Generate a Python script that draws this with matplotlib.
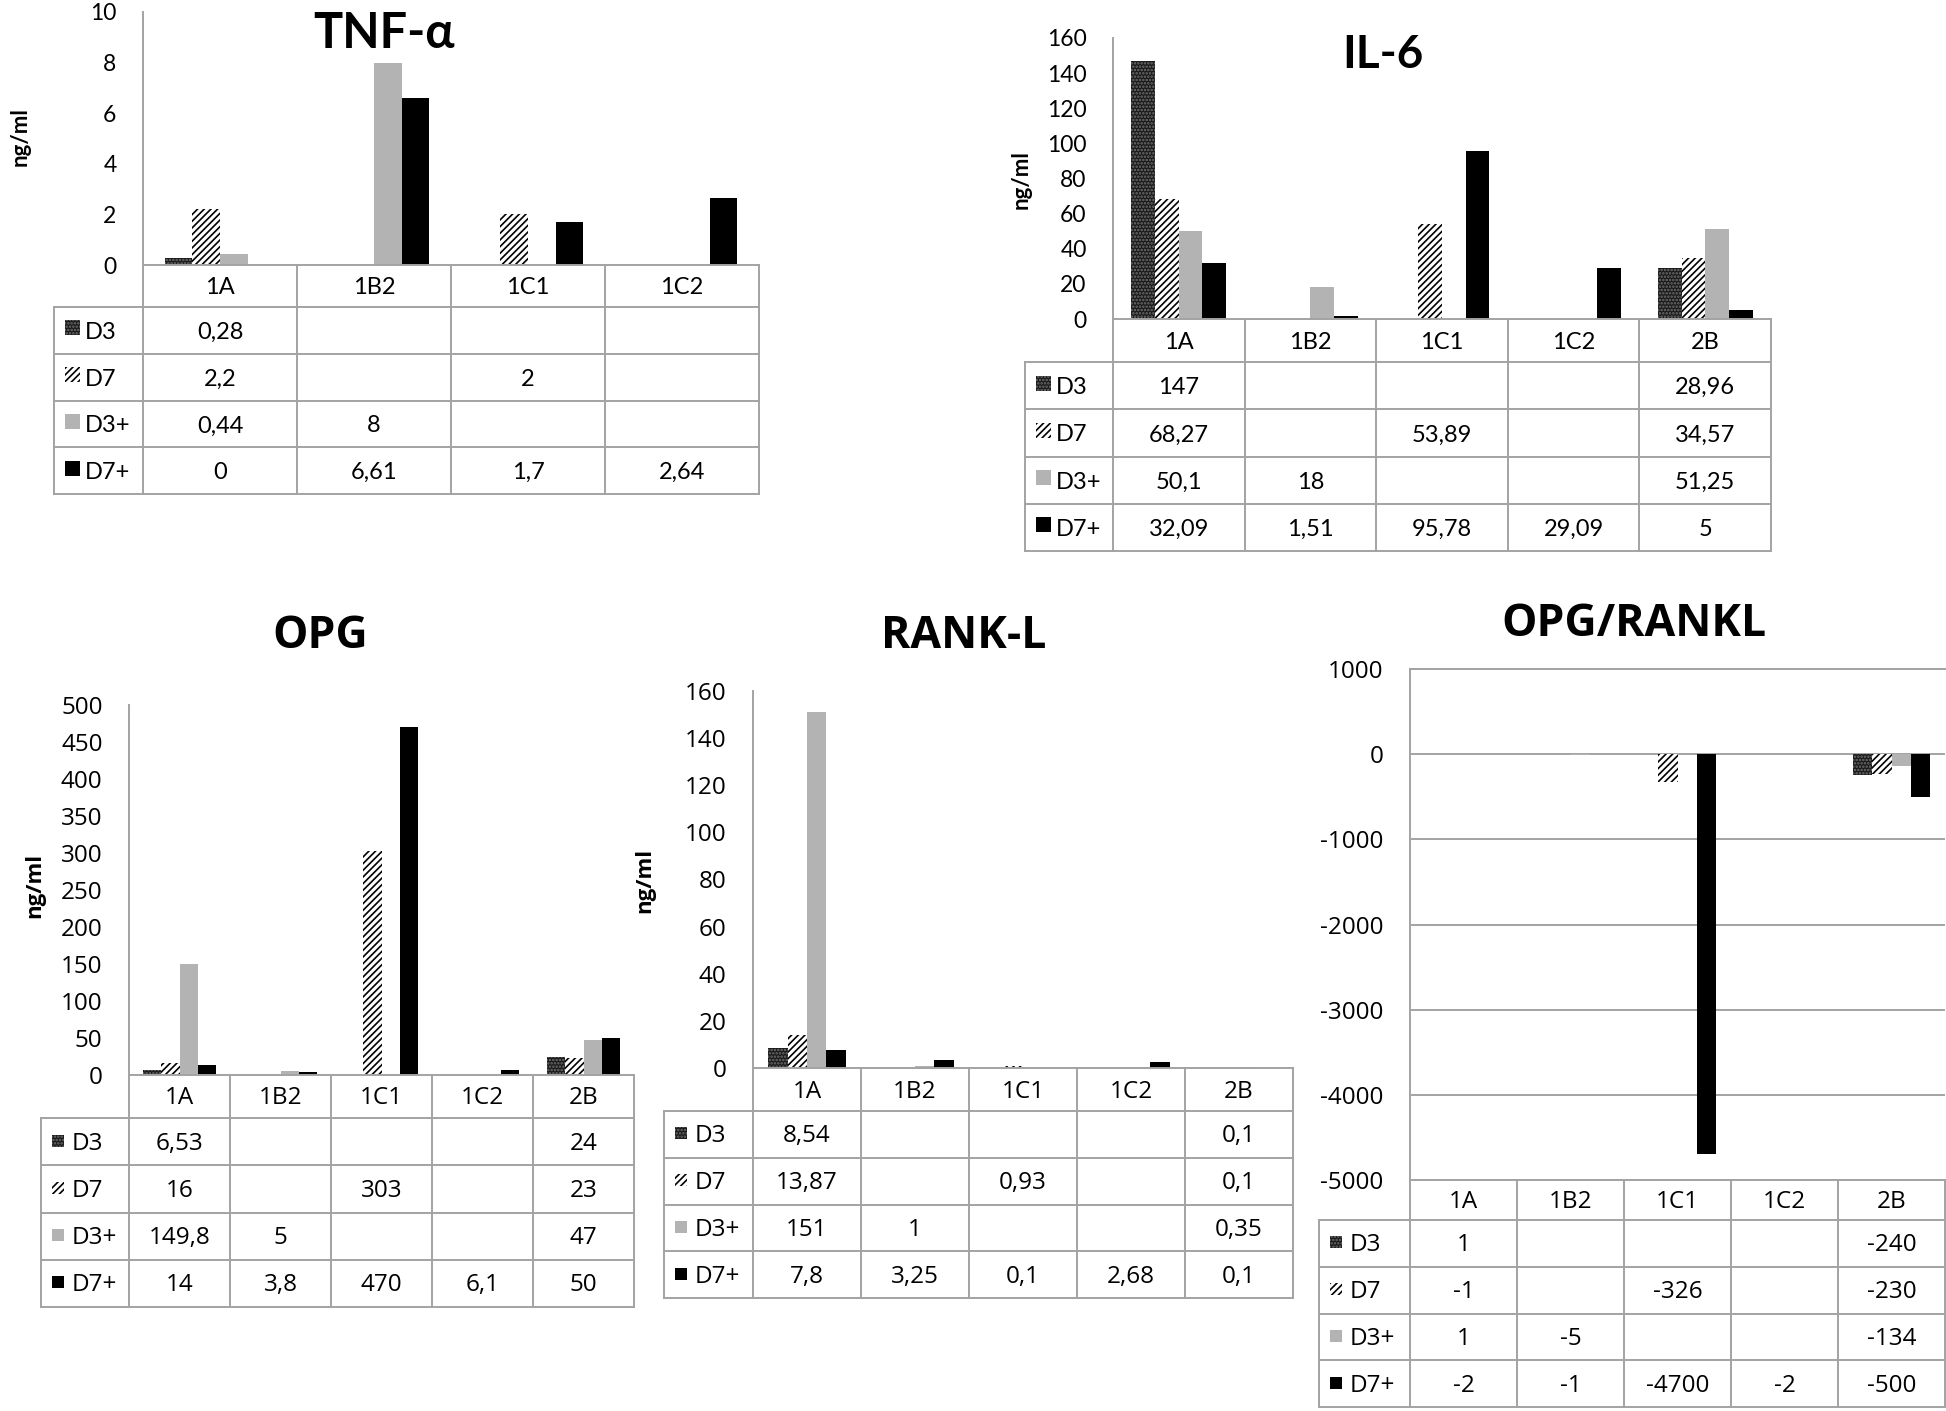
import numpy as np
import matplotlib
matplotlib.use("Agg")
import matplotlib.pyplot as plt
from matplotlib.lines import Line2D
from matplotlib.patches import Rectangle
from matplotlib.transforms import Affine2D

W, H = 1946, 1411
GRID = "#a3a3a3"

series_names = ["D3", "D7", "D3+", "D7+"]

# TNF-alpha
tnf_cats = ["1A", "1B2", "1C1", "1C2"]
tnf_d3 = [0.28, None, None, None]
tnf_d7 = [2.2, None, 2, None]
tnf_d3p = [0.44, 8, None, None]
tnf_d7p = [0, 6.61, 1.7, 2.64]
tnf_ticks = [0, 2, 4, 6, 8, 10]

# IL-6
il6_cats = ["1A", "1B2", "1C1", "1C2", "2B"]
il6_d3 = [147, None, None, None, 28.96]
il6_d7 = [68.27, None, 53.89, None, 34.57]
il6_d3p = [50.1, 18, None, None, 51.25]
il6_d7p = [32.09, 1.51, 95.78, 29.09, 5]
il6_ticks = [0, 20, 40, 60, 80, 100, 120, 140, 160]

# OPG
opg_cats = ["1A", "1B2", "1C1", "1C2", "2B"]
opg_d3 = [6.53, None, None, None, 24]
opg_d7 = [16, None, 303, None, 23]
opg_d3p = [149.8, 5, None, None, 47]
opg_d7p = [14, 3.8, 470, 6.1, 50]
opg_ticks = [0, 50, 100, 150, 200, 250, 300, 350, 400, 450, 500]

# RANK-L
rankl_cats = ["1A", "1B2", "1C1", "1C2", "2B"]
rankl_d3 = [8.54, None, None, None, 0.1]
rankl_d7 = [13.87, None, 0.93, None, 0.1]
rankl_d3p = [151, 1, None, None, 0.35]
rankl_d7p = [7.8, 3.25, 0.1, 2.68, 0.1]
rankl_ticks = [0, 20, 40, 60, 80, 100, 120, 140, 160]

# OPG/RANKL
ratio_cats = ["1A", "1B2", "1C1", "1C2", "2B"]
ratio_d3 = [1, None, None, None, -240]
ratio_d7 = [-1, None, -326, None, -230]
ratio_d3p = [1, -5, None, None, -134]
ratio_d7p = [-2, -1, -4700, -2, -500]
ratio_ticks = [-5000, -4000, -3000, -2000, -1000, 0, 1000]

STYLE = {
    "D3": dict(facecolor="#1a1a1a", edgecolor="#707070", hatch="....."),
    "D7": dict(facecolor="white", edgecolor="black", hatch="/////"),
    "D3+": dict(facecolor="#b3b3b3", edgecolor="#b3b3b3", hatch=None),
    "D7+": dict(facecolor="black", edgecolor="black", hatch=None),
}

plt.rcParams["hatch.linewidth"] = 1.2

fig = plt.figure(figsize=(W / 100, H / 100), dpi=100)
# pixel coords of the image, origin top-left
T = Affine2D().scale(1 / W, -1 / H).translate(0, 1) + fig.transFigure


def fmt(v):
    if v is None:
        return ""
    return f"{v:g}".replace(".", ",")


def line(xa, ya, xb, yb):
    fig.add_artist(Line2D([xa, xb], [ya, yb], transform=T, color=GRID, lw=1.4))


def panel(title, cats, values, ticks, lay, font, title_xy, unit_xy=None,
          grid=False, fs=17.5, tick_fs=17.5, tfs=32, sw_size=13):
    x_leg, x0, x1, y_top, y_zero, y_head, y_bot = lay
    ax = fig.add_axes([x0 / W, 1 - y_zero / H, (x1 - x0) / W, (y_zero - y_top) / H])
    n = len(cats)
    xs = np.arange(n)
    offs = (np.arange(4) - 1.5) * 0.18
    for k, (name, vals) in enumerate(zip(series_names, values)):
        idx = [i for i, v in enumerate(vals) if v is not None]
        ax.bar(xs[idx] + offs[k], [vals[i] for i in idx], width=0.18,
               linewidth=0, zorder=3, **STYLE[name])
    ax.set_xlim(-0.5, n - 0.5)
    ax.set_ylim(ticks[0], ticks[-1])
    ax.set_yticks(ticks, labels=[str(t) for t in ticks], family=font, fontsize=tick_fs)
    ax.set_xticks([])
    ax.tick_params(axis="y", length=0, pad=19)
    for s in ["top", "right", "bottom"]:
        ax.spines[s].set_visible(False)
    ax.spines["left"].set_color(GRID)
    ax.spines["left"].set_linewidth(1.4)
    ax.patch.set_alpha(0)
    if grid:
        ax.yaxis.grid(True, color=GRID, lw=1.4)
        ax.spines["top"].set_visible(True)
        ax.spines["top"].set_color(GRID)
        ax.spines["top"].set_linewidth(1.4)

    # data table under the plot
    cw = (x1 - x0) / n
    rh = (y_bot - y_head) / 4
    line(x0, y_zero, x1, y_zero)
    for j in range(n + 1):
        line(x0 + j * cw, y_zero, x0 + j * cw, y_bot)
    line(x_leg, y_head, x1, y_head)
    line(x_leg, y_head, x_leg, y_bot)
    for r in range(4):
        line(x_leg, y_head + (r + 1) * rh, x1, y_head + (r + 1) * rh)
    for j, c in enumerate(cats):
        fig.text(x0 + (j + 0.5) * cw, (y_zero + y_head) / 2 + 2, c, transform=T,
                 ha="center", va="center", family=font, fontsize=fs)
    for r, (name, vals) in enumerate(zip(series_names, values)):
        yc = y_head + (r + 0.5) * rh + 2
        sw = Rectangle((x_leg + 11, yc - sw_size + 3), sw_size, sw_size,
                       transform=T, lw=0, **STYLE[name])
        fig.add_artist(sw)
        fig.text(x_leg + 31, yc, name, transform=T, ha="left", va="center",
                 family=font, fontsize=fs)
        for j, v in enumerate(vals):
            fig.text(x0 + (j + 0.5) * cw, yc, fmt(v), transform=T,
                     ha="center", va="center", family=font, fontsize=fs)

    fig.text(title_xy[0], title_xy[1], title, transform=T, ha="center", va="center",
             family=[font, "DejaVu Sans"], fontsize=tfs, weight="bold")
    if unit_xy is not None:
        fig.text(unit_xy[0], unit_xy[1], "ng/ml", transform=T, ha="center",
                 va="center", rotation=90, family=font, fontsize=16, weight="bold")
    return ax


top_font = "Lato"
low_font = "Open Sans"

panel("TNF-α", tnf_cats, [tnf_d3, tnf_d7, tnf_d3p, tnf_d7p], tnf_ticks,
      (54, 143, 759, 12, 265, 307, 494), top_font, (384, 33), (20, 137),
      fs=17, tick_fs=16.5, tfs=35, sw_size=15)
panel("IL-6", il6_cats, [il6_d3, il6_d7, il6_d3p, il6_d7p], il6_ticks,
      (1025, 1113, 1771, 38, 319, 362, 551), top_font, (1383, 55), (1021, 180),
      fs=17, tick_fs=16.5, tfs=33, sw_size=15)
panel("OPG", opg_cats, [opg_d3, opg_d7, opg_d3p, opg_d7p], opg_ticks,
      (41, 129, 634, 705, 1075, 1118, 1307), low_font, (320, 636), (35, 885),
      sw_size=12)
panel("RANK-L", rankl_cats, [rankl_d3, rankl_d7, rankl_d3p, rankl_d7p], rankl_ticks,
      (664, 753, 1293, 691, 1068, 1111, 1298), low_font, (964, 636), (645, 880),
      sw_size=12)
panel("OPG/RANKL", ratio_cats, [ratio_d3, ratio_d7, ratio_d3p, ratio_d7p], ratio_ticks,
      (1319, 1410, 1945, 669, 1180, 1220, 1407), low_font, (1634, 624), grid=True,
      sw_size=12)

fig.savefig("out.png", dpi=100, facecolor="white")
